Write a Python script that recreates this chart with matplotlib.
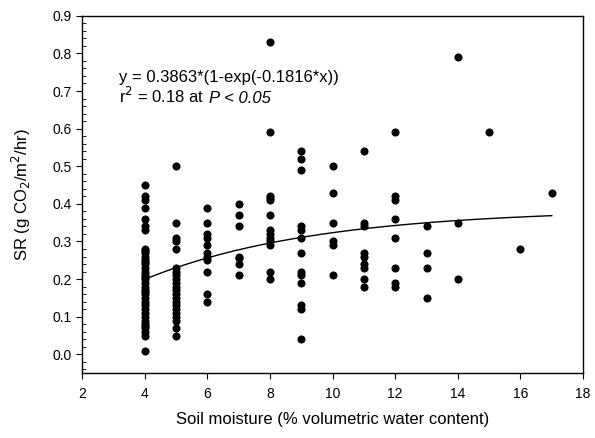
import matplotlib
matplotlib.use("Agg")
import matplotlib.pyplot as plt
import matplotlib.ticker as ticker
import numpy as np

plt.rcParams['font.family'] = ['Liberation Sans', 'DejaVu Sans']

# soil moisture (x) -> soil respiration readings (y)
sr_by_moisture = {
    4: [0.45, 0.42, 0.41, 0.39, 0.36, 0.34, 0.33,
        0.28, 0.275, 0.27, 0.26, 0.25, 0.245, 0.24, 0.23, 0.22, 0.21, 0.205, 0.20,
        0.19, 0.18, 0.17, 0.165, 0.16, 0.15, 0.14, 0.13, 0.12, 0.11, 0.10,
        0.09, 0.08, 0.075, 0.07, 0.06, 0.05, 0.01],
    5: [0.50, 0.35, 0.31, 0.30, 0.28, 0.23, 0.22, 0.21, 0.20, 0.19, 0.18,
        0.17, 0.16, 0.15, 0.14, 0.13, 0.12, 0.11, 0.10, 0.09, 0.07, 0.05],
    6: [0.39, 0.35, 0.32, 0.31, 0.29, 0.27, 0.26, 0.25, 0.22, 0.16, 0.14],
    7: [0.40, 0.37, 0.34, 0.26, 0.255, 0.24, 0.21],
    8: [0.83, 0.59, 0.42, 0.415, 0.41, 0.37, 0.33, 0.32, 0.31, 0.30, 0.29, 0.22, 0.20],
    9: [0.54, 0.52, 0.49, 0.34, 0.33, 0.31, 0.27, 0.22, 0.21, 0.19, 0.13, 0.12, 0.04],
    10: [0.50, 0.43, 0.35, 0.30, 0.29, 0.21],
    11: [0.54, 0.35, 0.34, 0.27, 0.26, 0.24, 0.23, 0.20, 0.18],
    12: [0.59, 0.42, 0.41, 0.36, 0.31, 0.23, 0.19, 0.18],
    13: [0.34, 0.27, 0.23, 0.15],
    14: [0.79, 0.35, 0.20],
    15: [0.59],
    16: [0.28],
    17: [0.43],
}

# fitted curve parameters (from the equation on the chart)
fit_a = 0.3863
fit_b = 0.1816
fit_range = (4, 17)

moisture = np.concatenate([[k] * len(v) for k, v in sr_by_moisture.items()])
sr = np.concatenate([v for v in sr_by_moisture.values()])

fig = plt.figure(figsize=(5.95, 4.38), dpi=100)
ax = fig.add_axes([0.138, 0.148, 0.842, 0.816])

ax.scatter(moisture, sr, s=34, color="black", zorder=3, linewidths=0)

xf = np.linspace(fit_range[0], fit_range[1], 200)
ax.plot(xf, fit_a * (1 - np.exp(-fit_b * xf)), color="black", lw=1)

ax.set_xlim(2, 18)
ax.set_ylim(-0.05, 0.9)
ax.xaxis.set_major_locator(ticker.MultipleLocator(2))
ax.yaxis.set_major_locator(ticker.MultipleLocator(0.1))
ax.yaxis.set_minor_locator(ticker.MultipleLocator(0.02))
ax.yaxis.set_major_formatter(ticker.FormatStrFormatter("%.1f"))
ax.tick_params(axis="both", which="major", direction="out", length=4, labelsize=10)
ax.tick_params(axis="x", which="major", pad=6)
ax.tick_params(axis="y", which="minor", direction="in", length=3)

ax.set_xlabel("Soil moisture (% volumetric water content)", fontsize=12, labelpad=8)
ax.set_ylabel("SR (g CO$_2$/m$^2$/hr)", fontsize=12, labelpad=14)

ax.text(0.073, 0.815, "y = 0.3863*(1-exp(-0.1816*x))", transform=ax.transAxes,
        fontsize=12, va="baseline")
t = ax.text(0.073, 0.755, "r$^2$ = 0.18 at", transform=ax.transAxes,
            fontsize=12, va="baseline")
ax.annotate("P < 0.05", xy=(1, 0), xycoords=t, xytext=(3.5, 0),
            textcoords="offset points", fontsize=12, style="italic",
            va="bottom", ha="left")

for s in ax.spines.values():
    s.set_linewidth(1)

fig.savefig("out.png", dpi=100)
